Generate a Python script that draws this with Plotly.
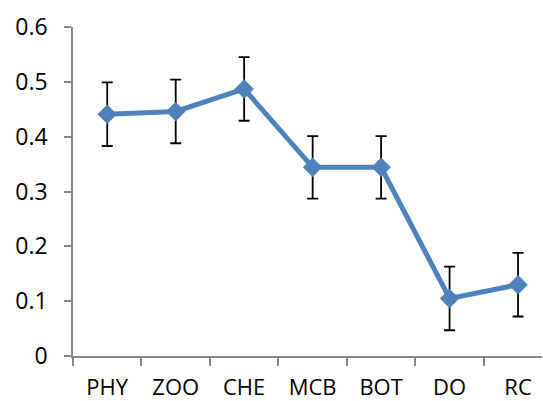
import plotly.graph_objects as go

categories = ["PHY", "ZOO", "CHE", "MCB", "BOT", "DO", "RC"]
values = [0.441, 0.446, 0.487, 0.344, 0.344, 0.105, 0.130]
errors = [0.058, 0.058, 0.058, 0.057, 0.057, 0.058, 0.058]

fig = go.Figure()
fig.add_trace(go.Scatter(
    x=categories, y=values, mode="lines+markers",
    line=dict(color="#4F81BD", width=5),
    marker=dict(symbol="diamond", size=15, color="#4F81BD"),
    error_y=dict(type="data", array=errors, visible=True,
                 color="black", thickness=1.8, width=5.5),
    showlegend=False,
    cliponaxis=False,
))

fig.update_layout(
    width=543, height=401,
    margin=dict(l=73, r=1, t=27, b=45, autoexpand=False),
    paper_bgcolor="white", plot_bgcolor="white",
    xaxis=dict(
        type="category", range=[-0.5, 6.35], automargin=False,
        showline=True, linecolor="#868686", linewidth=1.5,
        ticks="outside", ticklen=8, tickcolor="#868686", tickwidth=1.5,
        tickson="boundaries", showgrid=False, zeroline=False,
        tickfont=dict(family="Open Sans", size=22, color="black"),
        ticklabelstandoff=11,
    ),
    yaxis=dict(
        range=[0, 0.6], dtick=0.1, tick0=0, automargin=False,
        showline=True, linecolor="#868686", linewidth=1.5,
        ticks="outside", ticklen=7, tickcolor="#868686", tickwidth=1.5,
        showgrid=False, zeroline=False,
        tickfont=dict(family="Open Sans", size=23, color="black"),
        ticklabelstandoff=12,
    ),
)

fig.write_html("out.html", config={"displayModeBar": False},
               post_script="document.body.style.margin='0';document.body.style.overflow='hidden';")
